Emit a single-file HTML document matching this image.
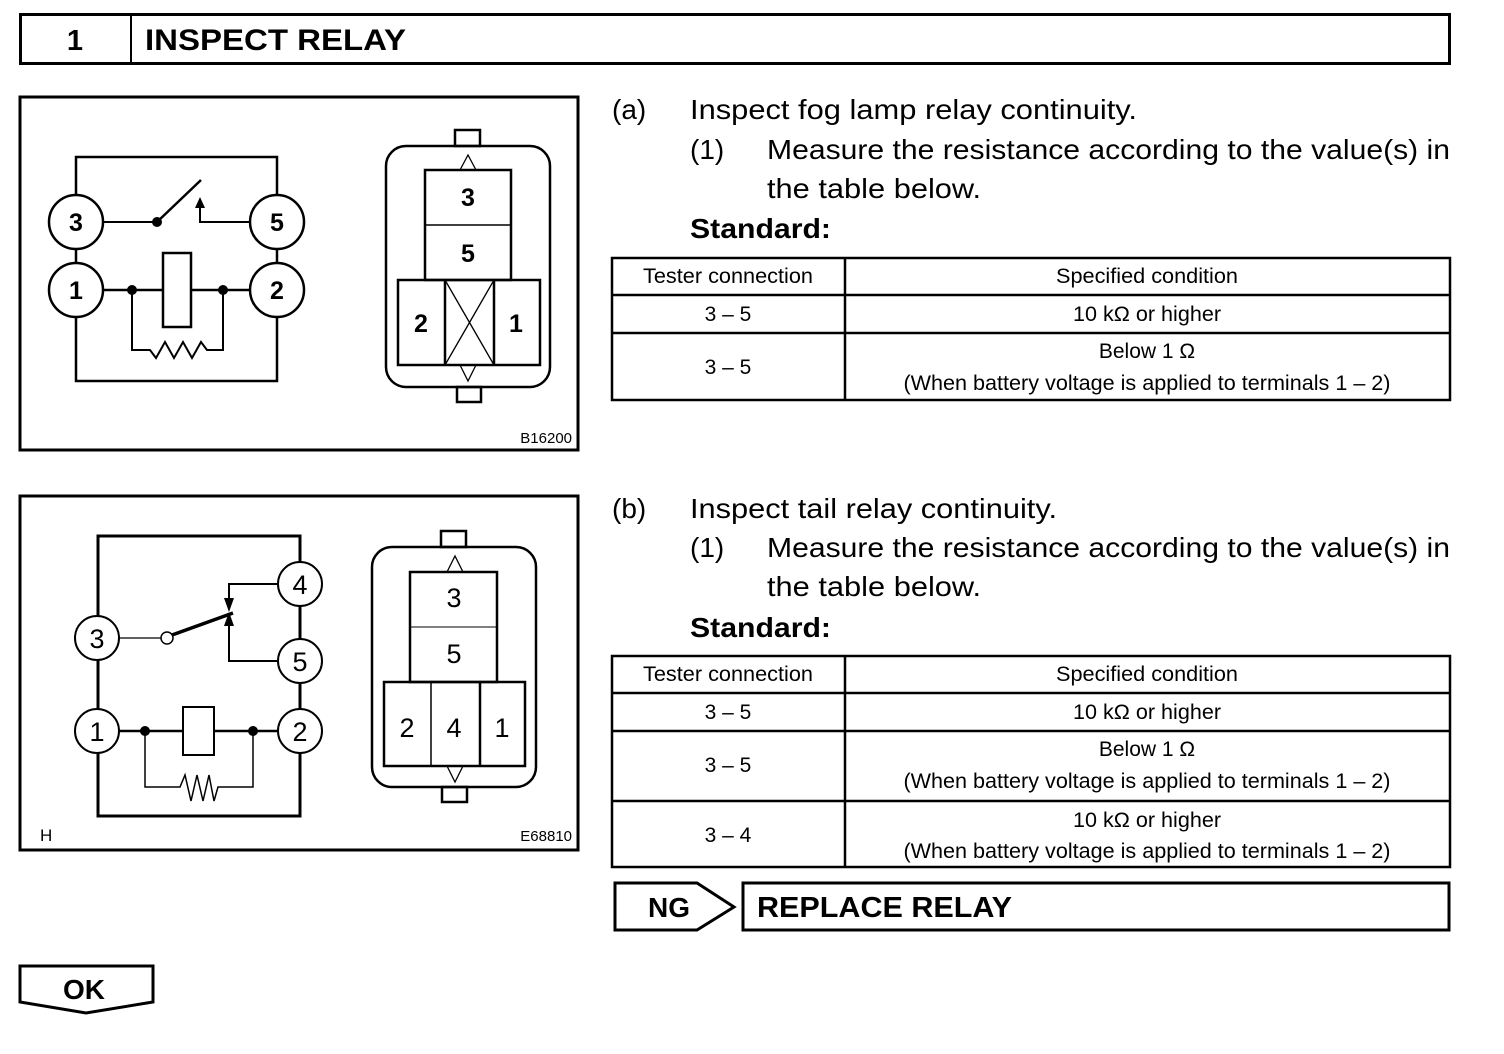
<!DOCTYPE html>
<html><head><meta charset="utf-8"><style>
html,body{margin:0;padding:0;background:#fff}
svg{display:block}
text{font-family:"Liberation Sans",Arial,sans-serif;fill:#000}
</style></head><body>
<svg width="1504" height="1054" viewBox="0 0 1504 1054" xmlns="http://www.w3.org/2000/svg">
<g fill="none" stroke="#000">
<rect x="20.5" y="14.5" width="1429" height="49" stroke-width="3"/>
<line x1="131" y1="14" x2="131" y2="64" stroke-width="2"/>
<rect x="20" y="97" width="558" height="353" stroke-width="3"/>
<g stroke-width="2.5">
<circle cx="76" cy="222" r="27"/><circle cx="277" cy="222" r="27"/>
<circle cx="76" cy="290" r="27"/><circle cx="277" cy="290" r="27"/>
<polyline points="76,195 76,157 277,157 277,195"/>
<line x1="76" y1="249" x2="76" y2="263"/><line x1="277" y1="249" x2="277" y2="263"/>
<polyline points="76,317 76,381 277,381 277,317"/>
<line x1="103" y1="222" x2="157" y2="222" stroke-width="2"/>
<line x1="157" y1="222" x2="201" y2="180"/>
<polyline points="200,206 200,222 250,222" stroke-width="2"/>
<line x1="103" y1="290" x2="163" y2="290"/><line x1="191" y1="290" x2="250" y2="290"/>
<rect x="163" y="253" width="28" height="74"/>
<polyline points="132,290 132,350 150,350 156,358 165,342 174,358 183,342 192,358 201,342 207,350 223,350 223,290" stroke-width="2"/>
</g>
<polygon points="200,197 195,208 205,208" fill="#000" stroke="none"/>
<circle cx="157" cy="222" r="5" fill="#000" stroke="none"/>
<circle cx="132" cy="290" r="5" fill="#000" stroke="none"/>
<circle cx="223" cy="290" r="5" fill="#000" stroke="none"/>
<g stroke-width="2.5">
<rect x="455" y="130" width="25" height="16"/>
<rect x="457" y="387" width="24" height="15"/>
<rect x="386" y="146" width="164" height="241" rx="20"/>
<rect x="425" y="170" width="86" height="110"/>
<line x1="425" y1="225" x2="511" y2="225" stroke-width="1.5"/>
<rect x="398" y="280" width="142" height="85"/>
<line x1="445" y1="280" x2="445" y2="365"/><line x1="494" y1="280" x2="494" y2="365"/>
</g>
<g stroke-width="1.3">
<line x1="445" y1="280" x2="494" y2="365"/><line x1="494" y1="280" x2="445" y2="365"/>
<polyline points="460,170 468,155 476,170"/>
<polyline points="460,365 468,381 476,365"/>
</g>
<rect x="20" y="496" width="558" height="354" stroke-width="3"/>
<g stroke-width="3">
<polyline points="98,616 98,536 300,536 300,562"/>
<line x1="98" y1="660" x2="98" y2="709"/>
<polyline points="98,753 98,816 300,816 300,753"/>
<line x1="300" y1="606" x2="300" y2="639"/><line x1="300" y1="683" x2="300" y2="709"/>
</g>
<g stroke-width="2">
<circle cx="300" cy="584" r="22"/><circle cx="97" cy="638" r="22"/>
<circle cx="300" cy="661" r="22"/><circle cx="97" cy="731" r="22"/>
<circle cx="300" cy="731" r="22"/>
<line x1="119" y1="638" x2="161" y2="638" stroke-width="1.2"/>
<circle cx="167" cy="638" r="6" stroke-width="1.5"/>
<line x1="172" y1="635" x2="233" y2="613" stroke-width="3.5"/>
<polyline points="278,584 229,584 229,600"/>
<polyline points="229,624 229,661 278,661"/>
<line x1="119" y1="731" x2="183" y2="731" stroke-width="2.5"/><line x1="214" y1="731" x2="278" y2="731" stroke-width="2.5"/>
<rect x="183" y="707" width="31" height="48"/>
<polyline points="145,731 145,787 180,787 185,775 191,801 197,775 203,801 209,775 214,801 218,787 253,787 253,731" stroke-width="1.5"/>
</g>
<polygon points="229,612 224,598 234,598" fill="#000" stroke="none"/>
<polygon points="229,612 224,626 234,626" fill="#000" stroke="none"/>
<circle cx="145" cy="731" r="5" fill="#000" stroke="none"/>
<circle cx="253" cy="731" r="5" fill="#000" stroke="none"/>
<g stroke-width="2.5">
<rect x="441" y="531" width="25" height="16"/>
<rect x="442" y="787" width="25" height="15"/>
<rect x="372" y="547" width="164" height="240" rx="20"/>
<rect x="410" y="572" width="87" height="110"/>
<line x1="410" y1="627" x2="497" y2="627" stroke-width="1"/>
<rect x="384" y="682" width="141" height="84"/>
<line x1="431" y1="682" x2="431" y2="766" stroke-width="1.5"/><line x1="480" y1="682" x2="480" y2="766"/>
</g>
<g stroke-width="1.3">
<polyline points="447,572 455,556 463,572"/>
<polyline points="447,766 455,782 463,766"/>
</g>
<g stroke-width="2.5">
<rect x="612" y="258" width="838" height="142"/>
<line x1="612" y1="295" x2="1450" y2="295"/><line x1="612" y1="333" x2="1450" y2="333"/>
<line x1="845" y1="258" x2="845" y2="400"/>
<rect x="612" y="656" width="838" height="211"/>
<line x1="612" y1="693" x2="1450" y2="693"/><line x1="612" y1="731" x2="1450" y2="731"/>
<line x1="612" y1="801" x2="1450" y2="801"/>
<line x1="845" y1="656" x2="845" y2="867"/>
</g>
<g stroke-width="3">
<polygon points="615,883 697,883 734,907 697,930 615,930"/>
<rect x="743" y="883" width="706" height="47"/>
<polygon points="20,966 153,966 153,1002 86,1013 20,1002"/>
</g>
</g>
<text x="75" y="50" font-size="29" font-weight="bold" text-anchor="middle">1</text>
<text x="145" y="50" font-size="30" font-weight="bold" textLength="261" lengthAdjust="spacingAndGlyphs">INSPECT RELAY</text>
<g font-size="25" font-weight="bold" text-anchor="middle">
<text x="76" y="231">3</text><text x="277" y="231">5</text>
<text x="76" y="299">1</text><text x="277" y="299">2</text>
<text x="468" y="206">3</text><text x="468" y="262">5</text>
<text x="421" y="332">2</text><text x="516" y="332">1</text>
</g>
<g font-size="27" text-anchor="middle">
<text x="300" y="594">4</text><text x="97" y="648">3</text>
<text x="300" y="671">5</text><text x="97" y="741">1</text><text x="300" y="741">2</text>
<text x="454" y="607">3</text><text x="454" y="663">5</text>
<text x="407" y="737">2</text><text x="454" y="737">4</text><text x="502" y="737">1</text>
</g>
<text x="572" y="443" font-size="15" text-anchor="end">B16200</text>
<text x="572" y="841" font-size="15" text-anchor="end">E68810</text>
<text x="40" y="841" font-size="17">H</text>
<g font-size="28" lengthAdjust="spacingAndGlyphs">
<text x="612" y="119">(a)</text><text x="690" y="119" textLength="447" lengthAdjust="spacingAndGlyphs">Inspect fog lamp relay continuity.</text>
<text x="690" y="159">(1)</text><text x="767" y="159" textLength="683" lengthAdjust="spacingAndGlyphs">Measure the resistance according to the value(s) in</text>
<text x="767" y="198" textLength="214" lengthAdjust="spacingAndGlyphs">the table below.</text>
<text x="690" y="238" font-weight="bold" textLength="141" lengthAdjust="spacingAndGlyphs">Standard:</text>
<text x="612" y="518">(b)</text><text x="690" y="518" textLength="367" lengthAdjust="spacingAndGlyphs">Inspect tail relay continuity.</text>
<text x="690" y="557">(1)</text><text x="767" y="557" textLength="683" lengthAdjust="spacingAndGlyphs">Measure the resistance according to the value(s) in</text>
<text x="767" y="596" textLength="214" lengthAdjust="spacingAndGlyphs">the table below.</text>
<text x="690" y="637" font-weight="bold" textLength="141" lengthAdjust="spacingAndGlyphs">Standard:</text>
</g>
<g font-size="21" text-anchor="middle">
<text x="728" y="283" textLength="170" lengthAdjust="spacingAndGlyphs">Tester connection</text><text x="1147" y="283" textLength="182" lengthAdjust="spacingAndGlyphs">Specified condition</text>
<text x="728" y="321">3 – 5</text><text x="1147" y="321" textLength="148" lengthAdjust="spacingAndGlyphs">10 kΩ or higher</text>
<text x="728" y="374">3 – 5</text><text x="1147" y="358">Below 1 Ω</text>
<text x="1147" y="390" textLength="487" lengthAdjust="spacingAndGlyphs">(When battery voltage is applied to terminals 1 – 2)</text>
<text x="728" y="681" textLength="170" lengthAdjust="spacingAndGlyphs">Tester connection</text><text x="1147" y="681" textLength="182" lengthAdjust="spacingAndGlyphs">Specified condition</text>
<text x="728" y="719">3 – 5</text><text x="1147" y="719" textLength="148" lengthAdjust="spacingAndGlyphs">10 kΩ or higher</text>
<text x="728" y="772">3 – 5</text><text x="1147" y="756">Below 1 Ω</text>
<text x="1147" y="788" textLength="487" lengthAdjust="spacingAndGlyphs">(When battery voltage is applied to terminals 1 – 2)</text>
<text x="728" y="842">3 – 4</text><text x="1147" y="827" textLength="148" lengthAdjust="spacingAndGlyphs">10 kΩ or higher</text>
<text x="1147" y="858" textLength="487" lengthAdjust="spacingAndGlyphs">(When battery voltage is applied to terminals 1 – 2)</text>
</g>
<text x="648" y="917" font-size="28" font-weight="bold">NG</text>
<text x="757" y="917" font-size="29" font-weight="bold" textLength="255" lengthAdjust="spacingAndGlyphs">REPLACE RELAY</text>
<text x="84" y="999" font-size="28" font-weight="bold" text-anchor="middle">OK</text>
</svg>
</body></html>
